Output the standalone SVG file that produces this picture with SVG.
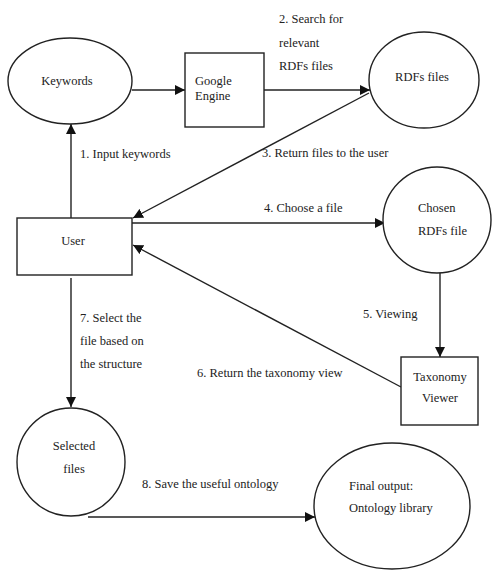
<svg xmlns="http://www.w3.org/2000/svg" width="504" height="571" viewBox="0 0 504 571">
<style>
.n{fill:#fff;stroke:#222;stroke-width:1.4}
.c{fill:none;stroke:#222;stroke-width:1.4}
text{font-family:'Liberation Serif','Times New Roman',Times,serif;font-size:12.5px;fill:#222}
.m{text-anchor:middle}
</style>
<defs>
<marker id="a" viewBox="0 0 10 10" refX="10" refY="5" markerWidth="10" markerHeight="10" markerUnits="userSpaceOnUse" orient="auto">
<path d="M0,0L10,5L0,10z" fill="#111"/>
</marker>
</defs>
<rect width="504" height="571" fill="#fff"/>
<g id="connectors">
<line class="c" x1="132" y1="90" x2="185" y2="90" marker-end="url(#a)"/>
<line class="c" x1="264" y1="90" x2="370" y2="90" marker-end="url(#a)"/>
<line class="c" x1="369" y1="93" x2="133" y2="218" marker-end="url(#a)"/>
<line class="c" x1="71" y1="218" x2="71" y2="124" marker-end="url(#a)"/>
<line class="c" x1="132" y1="223" x2="385" y2="223" marker-end="url(#a)"/>
<line class="c" x1="440" y1="273" x2="440" y2="357" marker-end="url(#a)"/>
<line class="c" x1="401" y1="387" x2="133" y2="245" marker-end="url(#a)"/>
<line class="c" x1="71" y1="278" x2="71" y2="407" marker-end="url(#a)"/>
<path class="c" d="M88,517H315" marker-end="url(#a)"/>
<text x="80" y="158">1. Input keywords</text>
<text x="279" y="23">2. Search for</text>
<text x="279" y="47">relevant</text>
<text x="279" y="70">RDFs files</text>
<text x="262" y="157">3. Return files to the user</text>
<text x="264" y="212">4. Choose a file</text>
<text x="363" y="318">5. Viewing</text>
<text x="197" y="377">6. Return the taxonomy view</text>
<text x="80" y="322">7. Select the</text>
<text x="80" y="345">file based on</text>
<text x="80" y="368">the structure</text>
<text x="142" y="488">8. Save the useful ontology</text>
</g>
<g id="keywords">
<ellipse class="n" cx="70" cy="81" rx="62" ry="43"/>
<text class="m" x="67" y="85">Keywords</text>
</g>
<g id="google">
<rect class="n" x="185" y="53" width="79" height="74"/>
<text x="195" y="85">Google</text>
<text x="195" y="100">Engine</text>
</g>
<g id="rdfs">
<ellipse class="n" cx="424" cy="80" rx="55" ry="48"/>
<text class="m" x="422" y="81">RDFs files</text>
</g>
<g id="user">
<rect class="n" x="17" y="218" width="115" height="57"/>
<text class="m" x="73" y="245">User</text>
</g>
<g id="chosen">
<ellipse class="n" cx="437" cy="220" rx="54" ry="53"/>
<text x="418" y="212">Chosen</text>
<text x="418" y="235">RDFs file</text>
</g>
<g id="taxonomy">
<rect class="n" x="401" y="357" width="77" height="68"/>
<text class="m" x="440" y="381">Taxonomy</text>
<text class="m" x="440" y="402">Viewer</text>
</g>
<g id="selected">
<circle class="n" cx="71" cy="462" r="54"/>
<text class="m" x="74" y="450">Selected</text>
<text class="m" x="74" y="473">files</text>
</g>
<g id="final">
<ellipse class="n" cx="392" cy="506" rx="78" ry="63"/>
<text x="349" y="490">Final output:</text>
<text x="349" y="512">Ontology library</text>
</g>
</svg>
